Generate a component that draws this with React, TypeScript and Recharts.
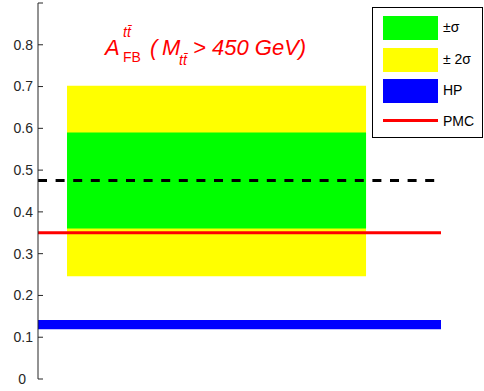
import React from 'react'
import {
  ComposedChart,
  XAxis,
  YAxis,
  ReferenceArea,
  ReferenceLine,
  Legend,
} from 'recharts'

// values
const yTicks = [0, 0.1, 0.2, 0.3, 0.4, 0.5, 0.6, 0.7, 0.8, 0.9]
const yTickLabels = ['0', '0.1', '0.2', '0.3', '0.4', '0.5', '0.6', '0.7', '0.8', '']
const xRange = [0, 1]
const bandRange = [0.072, 0.814]
const twoSigma = [0.246, 0.702]
const oneSigma = [0.36, 0.59]
const hpBand = [0.119, 0.141]
const pmcValue = 0.35
const dashedValue = 0.475

const legendLabels = ['±σ', '± 2σ', 'HP', 'PMC']
const legendColors = ['#00ff00', '#ffff00', '#0000ff', '#ff0000']

const FONT = '"Liberation Sans", Arial, sans-serif'
const AXIS_COLOR = '#262626'

const data = xRange.map((x) => ({ x }))

const YTick = (props: any) => {
  const { x, y, index } = props
  // the "0" label sits a little further left in the original
  const dx = index === 0 ? -7 : 0
  return (
    <g>
      <line x1={x + 5} x2={x + 10} y1={y} y2={y} stroke={AXIS_COLOR} strokeWidth={1} />
      <text x={x + dx} y={y} dy="0.35em" textAnchor="end" fontSize={14} fontFamily={FONT} fill={AXIS_COLOR}>
        {yTickLabels[index]}
      </text>
    </g>
  )
}

const LegendBox = () => (
  <div
    style={{
      width: 109,
      height: 129,
      border: '1px solid #000',
      background: '#fff',
      position: 'relative',
      fontFamily: FONT,
      fontSize: 14,
      color: '#000',
    }}
  >
    {legendLabels.map((label, i) => {
      const top = [8, 40, 71, 102][i]
      const isLine = i === 3
      return (
        <div key={label} style={{ position: 'absolute', left: 0, top, height: 24, width: 109 }}>
          {isLine ? (
            <div style={{ position: 'absolute', left: 10, top: 9, width: 55, height: 3, background: legendColors[i] }} />
          ) : (
            <div style={{ position: 'absolute', left: 10, top: 0, width: 55, height: 24, background: legendColors[i] }} />
          )}
          <span style={{ position: 'absolute', left: 70, top: 3, lineHeight: '16px', whiteSpace: 'nowrap' }}>{label}</span>
        </div>
      )
    })}
  </div>
)

const Title = () => (
  <svg width={484} height={80} style={{ position: 'absolute', left: 0, top: 0, pointerEvents: 'none' }}>
    <g fill="#ff0000" fontFamily={FONT}>
      <text x={105} y={55} fontSize={22} fontStyle="italic">A</text>
      <text x={123} y={37} fontSize={14} fontStyle="italic">t{'t\u0304'}</text>
      <text x={123} y={62} fontSize={14}>FB</text>
      <text x={150} y={55} fontSize={22} fontStyle="italic">(</text>
      <text x={162} y={55} fontSize={22} fontStyle="italic">M</text>
      <text x={179} y={65} fontSize={14} fontStyle="italic">t{'t\u0304'}</text>
      <text x={193} y={55} fontSize={22} fontStyle="italic">{'> 450 GeV)'}</text>
    </g>
  </svg>
)

export default function App() {
  return (
    <div style={{ position: 'absolute', left: 0, top: 0, width: 484, height: 391, background: '#fff' }}>
      <ComposedChart width={484} height={391} data={data} margin={{ top: 3, right: 43, bottom: 12, left: 0 }}>
        <XAxis dataKey="x" type="number" domain={xRange} hide />
        <YAxis
          type="number"
          domain={[0, 0.9]}
          ticks={yTicks}
          interval={0}
          width={38}
          tickSize={0}
          tickMargin={5}
          tickLine={false}
          tick={YTick}
          axisLine={{ stroke: AXIS_COLOR, strokeWidth: 1 }}
          allowDataOverflow
        />
        <ReferenceArea
          x1={bandRange[0]}
          x2={bandRange[1]}
          y1={twoSigma[0]}
          y2={twoSigma[1]}
          fill="#ffff00"
          fillOpacity={1}
          stroke="none"
        />
        <ReferenceArea
          x1={bandRange[0]}
          x2={bandRange[1]}
          y1={oneSigma[0]}
          y2={oneSigma[1]}
          fill="#00ff00"
          fillOpacity={1}
          stroke="none"
        />
        <ReferenceArea y1={hpBand[0]} y2={hpBand[1]} fill="#0000ff" fillOpacity={1} stroke="none" />
        <ReferenceLine y={dashedValue} stroke="#000" strokeWidth={3} strokeDasharray="9 8.6" />
        <ReferenceLine y={pmcValue} stroke="#ff0000" strokeWidth={3} />
        <Legend
          layout="vertical"
          align="center"
          verticalAlign="middle"
          content={<LegendBox />}
          wrapperStyle={{ left: 372, top: 7, width: 111, height: 131 }}
        />
      </ComposedChart>
      <Title />
    </div>
  )
}
